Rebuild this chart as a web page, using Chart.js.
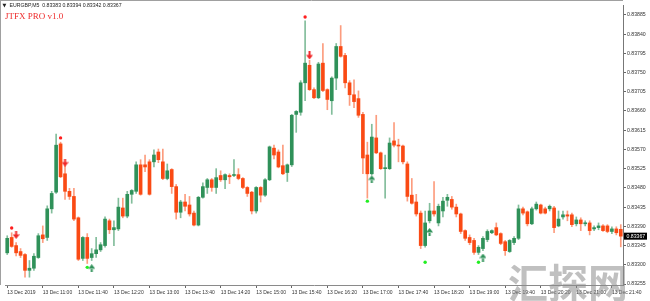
<!DOCTYPE html>
<html><head><meta charset="utf-8">
<script src="https://cdn.jsdelivr.net/npm/chart.js@4/dist/chart.umd.min.js"></script>
<style>html,body{margin:0;padding:0;background:#fff;overflow:hidden}canvas{display:block}</style>
</head><body>
<canvas id="c" width="650" height="301"></canvas>
<script>
const symbolTitle = "EURGBP,M5";
const lastBarOHLC = [0.83383, 0.83394, 0.83342, 0.83367];
const indicatorName = "JTFX PRO v1.0";
const watermark = "汇探网";
const firstBarMinutes = 10 * 60 + 20; // 13 Dec 10:20, M5 bars

const opens = [0.83328,0.83364,0.83345,0.83331,0.83324,0.83287,0.83292,0.83317,0.83370,0.83364,
0.83431,0.83470,0.83583,0.83513,0.83472,0.83460,0.83410,0.83315,0.83364,0.83317,
0.83326,0.83335,0.83345,0.83403,0.83382,0.83384,0.83433,0.83414,0.83465,0.83472,
0.83534,0.83534,0.83541,0.83541,0.83564,0.83541,0.83502,0.83523,0.83483,0.83423,
0.83447,0.83440,0.83421,0.83393,0.83458,0.83481,0.83499,0.83481,0.83509,0.83499,
0.83509,0.83509,0.83511,0.83502,0.83481,0.83470,0.83426,0.83481,0.83463,0.83499,
0.83573,0.83564,0.83532,0.83516,0.83534,0.83652,0.83657,0.83726,0.83767,0.83710,
0.83691,0.83772,0.83710,0.83684,0.83737,0.83811,0.83790,0.83726,0.83698,0.83689,
0.83652,0.83557,0.83513,0.83597,0.83562,0.83525,0.83525,0.83590,0.83580,0.83578,
0.83536,0.83463,0.83447,0.83421,0.83345,0.83403,0.83426,0.83398,0.83426,0.83451,
0.83453,0.83435,0.83419,0.83380,0.83364,0.83357,0.83329,0.83338,0.83359,0.83375,
0.83387,0.83373,0.83354,0.83331,0.83352,0.83362,0.83431,0.83424,0.83396,0.83431,
0.83440,0.83431,0.83431,0.83433,0.83391,0.83412,0.83417,0.83417,0.83396,0.83405,
0.83396,0.83398,0.83384,0.83387,0.83391,0.83391,0.83378,0.83384,0.83383];

const highs = [0.83368,0.83375,0.83352,0.83338,0.83326,0.83310,0.83326,0.83373,0.83391,0.83438,
0.83472,0.83606,0.83587,0.83534,0.83479,0.83479,0.83412,0.83366,0.83373,0.83338,
0.83364,0.83352,0.83412,0.83407,0.83403,0.83456,0.83456,0.83472,0.83476,0.83541,
0.83546,0.83557,0.83546,0.83569,0.83571,0.83571,0.83536,0.83525,0.83488,0.83451,
0.83465,0.83460,0.83426,0.83460,0.83492,0.83502,0.83502,0.83525,0.83520,0.83513,
0.83513,0.83546,0.83525,0.83504,0.83483,0.83472,0.83483,0.83483,0.83502,0.83578,
0.83580,0.83569,0.83580,0.83536,0.83652,0.83661,0.83731,0.83871,0.83779,0.83714,
0.83774,0.83818,0.83712,0.83740,0.83818,0.83860,0.83795,0.83731,0.83733,0.83707,
0.83657,0.83587,0.83629,0.83650,0.83564,0.83557,0.83597,0.83633,0.83594,0.83580,
0.83541,0.83502,0.83465,0.83426,0.83426,0.83444,0.83495,0.83442,0.83458,0.83465,
0.83460,0.83442,0.83421,0.83382,0.83370,0.83362,0.83345,0.83366,0.83382,0.83382,
0.83398,0.83375,0.83357,0.83359,0.83366,0.83440,0.83435,0.83426,0.83435,0.83447,
0.83442,0.83435,0.83440,0.83437,0.83426,0.83426,0.83426,0.83421,0.83412,0.83410,
0.83403,0.83403,0.83391,0.83398,0.83394,0.83394,0.83389,0.83389,0.83394];

const lows = [0.83324,0.83341,0.83321,0.83317,0.83271,0.83271,0.83287,0.83315,0.83352,0.83357,
0.83421,0.83467,0.83504,0.83453,0.83453,0.83403,0.83310,0.83310,0.83303,0.83310,
0.83317,0.83331,0.83341,0.83373,0.83345,0.83380,0.83410,0.83410,0.83444,0.83467,
0.83463,0.83518,0.83463,0.83529,0.83539,0.83499,0.83499,0.83467,0.83407,0.83410,
0.83426,0.83414,0.83391,0.83391,0.83456,0.83467,0.83472,0.83467,0.83495,0.83478,
0.83490,0.83506,0.83499,0.83478,0.83460,0.83419,0.83421,0.83447,0.83460,0.83497,
0.83548,0.83527,0.83511,0.83495,0.83530,0.83610,0.83650,0.83684,0.83708,0.83689,
0.83689,0.83705,0.83663,0.83652,0.83710,0.83786,0.83714,0.83673,0.83668,0.83645,
0.83513,0.83456,0.83511,0.83560,0.83523,0.83456,0.83523,0.83576,0.83541,0.83536,
0.83449,0.83442,0.83414,0.83338,0.83341,0.83398,0.83414,0.83391,0.83412,0.83437,
0.83430,0.83412,0.83373,0.83357,0.83347,0.83324,0.83324,0.83333,0.83354,0.83373,
0.83368,0.83347,0.83322,0.83329,0.83347,0.83359,0.83417,0.83391,0.83394,0.83428,
0.83419,0.83419,0.83426,0.83375,0.83389,0.83407,0.83403,0.83389,0.83391,0.83380,
0.83391,0.83370,0.83380,0.83382,0.83378,0.83375,0.83373,0.83370,0.83342];

const closes = [0.83362,0.83343,0.83328,0.83322,0.83287,0.83292,0.83320,0.83368,0.83361,0.83431,
0.83467,0.83580,0.83506,0.83472,0.83460,0.83407,0.83313,0.83364,0.83315,0.83326,
0.83335,0.83347,0.83407,0.83382,0.83387,0.83435,0.83414,0.83465,0.83474,0.83534,
0.83465,0.83529,0.83465,0.83557,0.83546,0.83502,0.83520,0.83483,0.83423,0.83447,
0.83437,0.83419,0.83393,0.83458,0.83483,0.83499,0.83481,0.83504,0.83499,0.83511,
0.83506,0.83511,0.83502,0.83481,0.83467,0.83426,0.83481,0.83463,0.83499,0.83576,
0.83557,0.83529,0.83513,0.83534,0.83650,0.83659,0.83726,0.83772,0.83710,0.83691,
0.83770,0.83708,0.83687,0.83737,0.83811,0.83788,0.83726,0.83698,0.83682,0.83650,
0.83550,0.83513,0.83599,0.83562,0.83525,0.83527,0.83585,0.83580,0.83578,0.83541,
0.83460,0.83444,0.83419,0.83345,0.83398,0.83426,0.83419,0.83437,0.83449,0.83458,
0.83435,0.83419,0.83378,0.83362,0.83352,0.83329,0.83341,0.83362,0.83378,0.83380,
0.83370,0.83350,0.83333,0.83357,0.83362,0.83431,0.83421,0.83396,0.83431,0.83442,
0.83421,0.83421,0.83437,0.83387,0.83407,0.83417,0.83414,0.83394,0.83405,0.83396,
0.83398,0.83380,0.83387,0.83391,0.83380,0.83378,0.83384,0.83375,0.83367];

// indicator signals (bar index, price)
const sellDotIdx = [1, 12, 67];
const sellDotPrice = [0.83386, 0.83597, 0.83880];
const sellArrowIdx = [2, 13, 68];
const sellArrowPrice = [0.83370, 0.83539, 0.83790];
const buyDotIdx = [18, 81, 94, 106];
const buyDotPrice = [0.83294, 0.83449, 0.83306, 0.83306];
const buyArrowIdx = [19, 82, 95, 107];
const buyArrowPrice = [0.83292, 0.83500, 0.83377, 0.83317];

const yTickValues = [0.83255,0.83300,0.83345,0.83390,0.83435,0.83480,0.83525,0.83570,
0.83615,0.83660,0.83705,0.83750,0.83795,0.83840,0.83885];
const yMin = 0.832527, yMax = 0.839081;
const xTickLabels = ["13 Dec 2019","13 Dec 11:00","13 Dec 11:40","13 Dec 12:20","13 Dec 13:00",
"13 Dec 13:40","13 Dec 14:20","13 Dec 15:00","13 Dec 15:40","13 Dec 16:20","13 Dec 17:00",
"13 Dec 17:40","13 Dec 18:20","13 Dec 19:00","13 Dec 19:40","13 Dec 20:20","13 Dec 21:00","13 Dec 21:40"];
const xTickEvery = 8;

const N = opens.length;
const times = [];
for (let i = 0; i < N; i++) {
  const m = firstBarMinutes + 5 * i;
  times.push(String(Math.floor(m / 60)).padStart(2, '0') + ':' + String(m % 60).padStart(2, '0'));
}
const GREEN = '#2f9159', RED = '#fa4a14';
const GREEN_W = 'rgba(47,145,89,0.6)', RED_W = 'rgba(250,74,20,0.55)';
const isUp = closes.map((c, i) => c >= opens[i]);

function arrowCanvas(color, down) {
  const c = document.createElement('canvas');
  c.width = 7; c.height = 8;
  const g = c.getContext('2d');
  g.fillStyle = color;
  g.beginPath();
  if (down) {
    g.rect(2.5, 0, 2, 4);
    g.moveTo(0, 3.5); g.lineTo(7, 3.5); g.lineTo(3.5, 8); g.closePath();
  } else {
    g.rect(2.5, 4, 2, 4);
    g.moveTo(0, 4.5); g.lineTo(7, 4.5); g.lineTo(3.5, 0); g.closePath();
  }
  g.fill();
  return c;
}
const pts = (idx, pr) => idx.map((k, j) => ({ x: times[k], y: pr[j] }));

const overlay = {
  id: 'overlay',
  beforeDraw(chart) {
    const ctx = chart.ctx;
    ctx.save(); ctx.fillStyle = '#fff'; ctx.fillRect(0, 0, chart.width, chart.height); ctx.restore();
  },
  afterDraw(chart) {
    const { ctx, chartArea: a, scales: { y } } = chart;
    ctx.save();
    ctx.strokeStyle = '#a0a0a0'; ctx.lineWidth = 1;
    ctx.beginPath();
    ctx.moveTo(0, 0.5); ctx.lineTo(a.right, 0.5);
    ctx.moveTo(0.5, 0); ctx.lineTo(0.5, a.bottom);
    ctx.stroke();
    ctx.textBaseline = 'middle';
    ctx.fillStyle = '#222';
    ctx.font = '5px "DejaVu Sans"';
    ctx.fillText('▼', 2.5, 5.5);
    ctx.font = '5.2px "Liberation Sans"';
    ctx.fillText(symbolTitle + '  ' + lastBarOHLC.map(v => v.toFixed(5)).join(' '), 9.5, 5.5);
    ctx.fillStyle = '#ee2b2b';
    ctx.font = '9px "Liberation Serif"';
    ctx.fillText(indicatorName, 5, 17);
    const last = closes[N - 1];
    const py = y.getPixelForValue(last);
    ctx.fillStyle = '#000';
    ctx.fillRect(a.right + 1, py - 3.5, 23, 7);
    ctx.fillStyle = '#fff';
    ctx.font = '5.2px "Liberation Sans"';
    ctx.fillText(last.toFixed(5), a.right + 3.5, py);
    ctx.textBaseline = 'alphabetic';
    ctx.font = 'bold 40px "Noto Sans CJK SC"';
    ctx.fillStyle = 'rgba(140,140,140,0.55)';
    ctx.fillText(watermark, 508, 298);
    ctx.restore();
  }
};

new Chart(document.getElementById('c'), {
  type: 'bar',
  data: {
    labels: times,
    datasets: [
      { type: 'bar', label: 'wick', data: lows.map((l, i) => [l, highs[i]]),
        backgroundColor: isUp.map(u => u ? GREEN_W : RED_W), barThickness: 1, grouped: false, order: 3 },
      { type: 'bar', label: 'body', data: opens.map((o, i) => [o, closes[i]]),
        backgroundColor: isUp.map(u => u ? GREEN : RED), barThickness: 3, grouped: false, minBarLength: 1, order: 2 },
      { type: 'line', label: 'sellDot', data: pts(sellDotIdx, sellDotPrice), showLine: false,
        pointRadius: 1.7, pointBackgroundColor: '#ff1f1f', pointBorderWidth: 0, order: 1 },
      { type: 'line', label: 'buyDot', data: pts(buyDotIdx, buyDotPrice), showLine: false,
        pointRadius: 1.7, pointBackgroundColor: '#22ee22', pointBorderWidth: 0, order: 1 },
      { type: 'line', label: 'sellArrow', data: pts(sellArrowIdx, sellArrowPrice), showLine: false,
        pointStyle: arrowCanvas('#f02828', true), order: 1 },
      { type: 'line', label: 'buyArrow', data: pts(buyArrowIdx, buyArrowPrice), showLine: false,
        pointStyle: arrowCanvas('#2f9159', false), order: 1 }
    ]
  },
  options: {
    responsive: false, animation: false, devicePixelRatio: 1,
    layout: { padding: { top: 1, left: 0, right: 0, bottom: 0 } },
    plugins: { legend: { display: false }, tooltip: { enabled: false }, title: { display: false } },
    scales: {
      x: {
        type: 'category', offset: true,
        grid: { display: true, offset: false, drawOnChartArea: false, drawTicks: true, tickLength: 3,
          color: c => (c.index % xTickEvery === 0 ? '#666' : 'rgba(0,0,0,0)') },
        border: { display: true, color: '#8a8a8a' },
        ticks: { autoSkip: false, maxRotation: 0, minRotation: 0, align: 'start', padding: 2,
          font: { size: 5, family: 'Liberation Sans' }, color: '#333',
          callback: (v, i) => (i % xTickEvery === 0 ? (xTickLabels[i / xTickEvery] || '') : '') },
        afterFit: s => { s.height = 16; s.paddingLeft = 0; s.paddingRight = 0; }
      },
      y: {
        position: 'right', min: yMin, max: yMax,
        afterBuildTicks: s => { s.ticks = yTickValues.map(v => ({ value: v })); },
        grid: { display: true, drawOnChartArea: false, drawTicks: true, tickLength: 3, color: '#666' },
        border: { display: true, color: '#777' },
        ticks: { padding: 1, font: { size: 5.2, family: 'Liberation Sans' }, color: '#333',
          callback: v => Number(v).toFixed(5) },
        afterFit: s => { s.width = 27; s.paddingTop = 0; s.paddingBottom = 0; }
      }
    }
  },
  plugins: [overlay]
});
</script>
</body></html>
